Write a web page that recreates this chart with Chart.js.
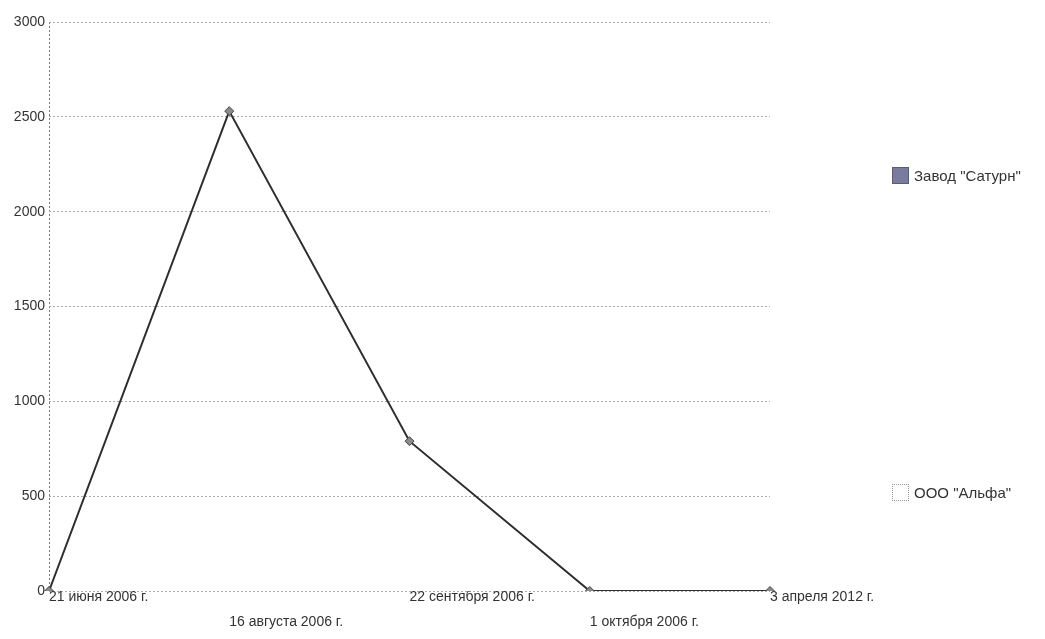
<!DOCTYPE html>
<html>
<head>
<meta charset="utf-8">
<script src="https://cdn.jsdelivr.net/npm/chart.js@4.4.1/dist/chart.umd.min.js"></script>
<style>
  html, body { margin: 0; padding: 0; background: #fff; }
  #wrap { position: relative; width: 1045px; height: 639px; }
  #grafico { position: absolute; left: 0; top: 0; }
  .leg { position: absolute; font: 15px "Liberation Sans", Arial, sans-serif; color: #333; white-space: nowrap; display: flex; align-items: center; }
  .leg .box { width: 17px; height: 17px; margin-right: 5px; box-sizing: border-box; }
</style>
</head>
<body>
<div id="wrap">
  <canvas id="grafico" width="1045" height="639"></canvas>
  <div class="leg" id="leg1" style="left:892px; top:167px;"><span class="box" style="background:#7a7c9d;border:1px solid #5a5c7c;"></span><span></span></div>
  <div class="leg" id="leg2" style="left:892px; top:484px;"><span class="box" style="background:#fff;border:1px dotted #999;"></span><span></span></div>
</div>
<script>
const datas = ['21 июня 2006 г.', '16 августа 2006 г.', '22 сентября 2006 г.', '1 октября 2006 г.', '3 апреля 2012 г.'];
const valoresSaturn = [0, 2530, 790, 0, 0];
const valoresAlfa = [];
const seriesNomes = ['Завод "Сатурн"', 'ООО "Альфа"'];
const ticksY = [0, 500, 1000, 1500, 2000, 2500, 3000];

document.addEventListener('DOMContentLoaded', function() {
    document.querySelector('#leg1 span:last-child').textContent = seriesNomes[0];
    document.querySelector('#leg2 span:last-child').textContent = seriesNomes[1];

    // labels alternate between two rows
    const rotulos = datas.map((d, i) => i % 2 === 0 ? [d, ''] : ['', d]);

    const ctx = document.getElementById('grafico').getContext('2d');
    new Chart(ctx, {
        type: 'line',
        data: {
            labels: rotulos,
            datasets: [
                {
                    label: seriesNomes[0],
                    data: valoresSaturn,
                    borderColor: '#2e2e2e',
                    backgroundColor: '#888',
                    borderWidth: 2,
                    pointStyle: 'rectRot',
                    pointRadius: 4.5,
                    pointBorderColor: '#444',
                    pointBackgroundColor: '#8a8a8a',
                    pointBorderWidth: 1,
                    tension: 0,
                    fill: false
                },
                {
                    label: seriesNomes[1],
                    data: valoresAlfa,
                    borderColor: '#ccc',
                    pointRadius: 0
                }
            ]
        },
        options: {
            responsive: false,
            animation: false,
            layout: { padding: { top: 22, right: 275, bottom: 0, left: 0 } },
            plugins: {
                legend: { display: false },
                tooltip: { enabled: false }
            },
            scales: {
                x: {
                    offset: false,
                    grid: {
                        drawTicks: false,
                        // only the left edge: dotted vertical axis line
                        color: function(c) { return c.index === 0 ? '#777' : 'rgba(0,0,0,0)'; }
                    },
                    border: { display: false, dash: [2, 2] },
                    ticks: {
                        align: 'start',
                        autoSkip: false,
                        maxRotation: 0,
                        padding: -6,
                        color: '#333',
                        font: { family: '"Liberation Sans", Arial, sans-serif', size: 14, lineHeight: '25px' }
                    },
                    afterFit: function(scale) { scale.height = 48; }
                },
                y: {
                    min: 0,
                    max: 3000,
                    afterBuildTicks: function(scale) {
                        scale.ticks = ticksY.map(v => ({ value: v }));
                    },
                    grid: {
                        color: '#aaa',
                        lineWidth: 1,
                        drawTicks: false
                    },
                    border: { display: false, dash: [2, 2] },
                    ticks: {
                        padding: 4,
                        color: '#333',
                        font: { family: '"Liberation Sans", Arial, sans-serif', size: 14 },
                        callback: function(v) { return String(v); }
                    },
                    afterFit: function(scale) { scale.width = 49; }
                }
            }
        }
    });
});
</script>
</body>
</html>
